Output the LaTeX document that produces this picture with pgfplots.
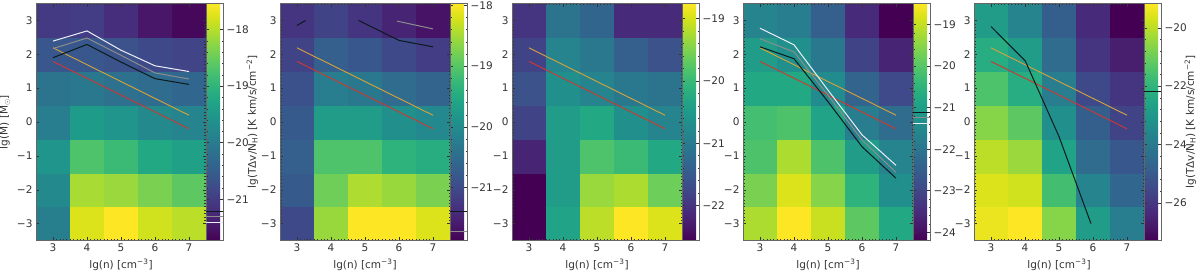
\documentclass[border=0pt]{standalone}
\usepackage{fontspec}
\setmainfont{DejaVu Sans}
\usepackage{pgfplots}
\usepackage{pgfplotstable}
\pgfplotsset{compat=1.18}

\definecolor{lorange}{HTML}{D9A33A}
\definecolor{lred}{HTML}{D0382E}
\definecolor{lgray}{HTML}{8C8C8C}
\definecolor{lwhite}{HTML}{EEEEF6}
\definecolor{lblack}{HTML}{0B1A1C}

\pgfplotstableread{
x y c
3 -3 -19.93
4 -3 -17.75
5 -3 -17.54
6 -3 -17.83
7 -3 -17.96
3 -2 -19.76
4 -2 -18.08
5 -2 -18.17
6 -2 -18.38
7 -2 -18.59
3 -1 -19.55
4 -1 -18.71
5 -1 -18.88
6 -1 -19.22
7 -1 -19.34
3 0 -19.97
4 0 -19.43
5 0 -19.55
6 0 -19.76
7 0 -19.84
3 1 -20.14
4 1 -20.05
5 1 -20.18
6 1 -20.26
7 1 -20.35
3 2 -20.60
4 2 -20.60
5 2 -20.68
6 2 -20.81
7 2 -20.89
3 3 -21.02
4 3 -20.98
5 3 -21.19
6 3 -21.48
7 3 -21.65
}\mapA

\pgfplotstableread{
x y c
3 -3 -21.01
4 -3 -18.56
5 -3 -17.97
6 -3 -17.97
7 -3 -18.17
3 -2 -20.78
4 -2 -18.83
5 -2 -18.44
6 -2 -18.56
7 -2 -18.75
3 -1 -20.70
4 -1 -19.06
5 -1 -19.06
6 -1 -19.34
7 -1 -19.45
3 0 -20.78
4 0 -19.72
5 0 -19.72
6 0 -19.92
7 0 -20.04
3 1 -20.90
4 1 -20.23
5 1 -20.31
6 1 -20.51
7 1 -20.62
3 2 -21.09
4 2 -20.70
5 2 -20.82
6 2 -21.01
7 2 -21.17
3 3 -21.29
4 3 -21.09
5 3 -21.29
6 3 -21.48
7 3 -21.68
}\mapB

\pgfplotstableread{
x y c
3 -3 -22.56
4 -3 -20.36
5 -3 -19.14
6 -3 -18.76
7 -3 -18.95
3 -2 -22.56
4 -2 -20.47
5 -2 -19.33
6 -2 -19.22
7 -2 -19.60
3 -1 -22.18
4 -1 -20.47
5 -1 -19.82
6 -1 -19.98
7 -1 -20.28
3 0 -21.80
4 0 -20.47
5 0 -20.28
6 0 -20.66
7 0 -20.85
3 1 -21.61
4 1 -20.66
5 1 -20.85
6 1 -21.04
7 1 -21.12
3 2 -21.80
4 2 -20.85
5 2 -21.04
6 2 -21.42
7 2 -21.61
3 3 -21.99
4 3 -21.12
5 3 -21.34
6 3 -22.10
7 3 -22.10
}\mapC

\pgfplotstableread{
x y c
3 -3 -19.18
4 -3 -18.49
5 -3 -18.95
6 -3 -19.92
7 -3 -20.77
3 -2 -19.63
4 -2 -18.78
5 -2 -19.52
6 -2 -20.49
7 -2 -21.35
3 -1 -20.09
4 -1 -19.18
5 -1 -20.09
6 -1 -21.06
7 -1 -21.63
3 0 -20.20
4 0 -20.09
5 0 -20.89
6 0 -21.80
7 0 -22.20
3 1 -20.77
4 1 -20.77
5 1 -21.46
6 1 -22.37
7 1 -22.94
3 2 -21.06
4 2 -21.35
5 2 -21.92
6 2 -23.06
7 2 -23.63
3 3 -21.63
4 3 -21.80
5 3 -22.49
6 3 -23.51
7 3 -24.20
}\mapD

\pgfplotstableread{
x y c
3 -3 -19.41
4 -3 -19.17
5 -3 -20.63
6 -3 -22.82
7 -3 -23.88
3 -2 -19.58
4 -2 -19.74
5 -2 -21.61
6 -2 -23.64
7 -2 -24.61
3 -1 -19.98
4 -1 -20.39
5 -1 -22.58
6 -1 -24.45
7 -1 -25.10
3 0 -20.63
4 0 -21.20
5 0 -23.23
6 0 -24.85
7 0 -25.67
3 1 -21.44
4 1 -22.26
5 1 -23.88
6 1 -25.50
7 1 -26.07
3 2 -22.26
4 2 -22.82
5 2 -24.45
6 2 -26.07
7 2 -26.64
3 3 -22.82
4 3 -23.64
5 3 -24.85
6 3 -26.32
7 3 -27.29
}\mapE

\pgfplotsset{
  panel/.style={
    scale only axis, width=170pt, height=237pt, anchor=south west,
    xmin=2.5, xmax=7.5, ymin=-3.5, ymax=3.5,
    xtick={3,4,5,6,7}, xticklabels={3,4,5,6,7},
    ytick={-3,-2,-1,0,1,2,3}, yticklabels={−3,−2,−1,0,1,2,3},
    minor x tick num=9, minor y tick num=9,
    tick align=inside, major tick length=3pt, minor tick length=1.5pt,
    tick style={black!80, line width=0.4pt},
    axis line style={black!60, line width=0.5pt},
    tick label style={text=black!80},
    label style={text=black!80},
    xlabel={lg(n) [cm\textsuperscript{−3}]},
    colormap/viridis,
    axis on top,
    colorbar,
    colorbar shift/.style={},
  },
  cbar/.style={
    at={(parent axis.north east)}, anchor=north west,
    scale only axis, width=17pt, height=237pt,
    yticklabel pos=right,
    tick align=inside,
    minor y tick num=4,
    major tick length=3pt, minor tick length=1.5pt,
    tick style={black!80, line width=0.4pt},
    axis line style={black!60, line width=0.5pt},
    tick label style={text=black!80},
    label style={text=black!80},
    ylabel shift=-9pt,
  },
  heat/.style={matrix plot*, mesh/cols=5, point meta=explicit},
}
\newcommand{\cbline}[2]{\draw[#1, line width=1pt] ({rel axis cs:0,0}|-{axis cs:0,#2}) -- ({rel axis cs:1,0}|-{axis cs:0,#2});}
\newcommand{\reflines}{%
  \addplot[lorange, line width=0.9pt] coordinates {(3,2.19) (7,0.2)};
  \addplot[lred, line width=0.9pt] coordinates {(3,1.79) (7,-0.2)};
}
\def\cblabel{lg(TΔv/N\textsubscript{H}) [K km/s/cm\textsuperscript{−2}]}

\begin{document}
\begin{tikzpicture}[font=\fontsize{10.5}{12}\selectfont]
\path[use as bounding box] (0,0) rectangle (1200pt,272pt);

% Panel 1
\begin{axis}[panel, at={(36pt,31.5pt)},
  ylabel={lg(M) [M$_\odot$]},
  point meta min=-21.73, point meta max=-17.54,
  colorbar style={cbar, ytick={-21,-20,-19,-18}, yticklabels={−21,−20,−19,−18},
    ylabel={\cblabel},
    after end axis/.code={\cbline{lblack}{-21.21}\cbline{lgray}{-21.31}\cbline{lwhite}{-21.42}}},
]
\addplot[heat] table[meta=c] {\mapA};
\reflines
\addplot[lblack, line width=1pt] coordinates {(3,1.90) (4,2.29) (5,1.77) (6,1.28) (7,1.11)};
\addplot[lgray, line width=1pt] coordinates {(3,2.17) (4,2.48) (5,1.97) (6,1.45) (7,1.27)};
\addplot[lwhite, line width=1pt] coordinates {(3,2.39) (4,2.69) (5,2.12) (6,1.66) (7,1.49)};
\end{axis}

% Panel 2
\begin{axis}[panel, at={(280pt,31.5pt)},
  point meta min=-21.87, point meta max=-17.97,
  colorbar style={cbar, ytick={-21,-20,-19,-18}, yticklabels={−21,−20,−19,−18},
    after end axis/.code={\cbline{lblack}{-21.39}\cbline{lgray}{-21.72}}},
]
\addplot[heat] table[meta=c] {\mapB};
\reflines
\addplot[lblack, line width=1pt] coordinates {(3,2.85) (3.25,3.0)};
\addplot[lblack, line width=1pt] coordinates {(4.81,3.0) (6,2.41) (7,2.22)};
\addplot[lgray, line width=1pt] coordinates {(5.94,2.98) (7,2.75)};
\end{axis}

% Panel 3
\begin{axis}[panel, at={(512pt,31.5pt)},
  point meta min=-22.56, point meta max=-18.76,
  colorbar style={cbar, ytick={-22,-21,-20,-19}, yticklabels={−22,−21,−20,−19}},
]
\addplot[heat] table[meta=c] {\mapC};
\reflines
\end{axis}

% Panel 4
\begin{axis}[panel, at={(743pt,31.5pt)},
  point meta min=-24.2, point meta max=-18.49,
  colorbar style={cbar, ytick={-24,-23,-22,-21,-20,-19}, yticklabels={−24,−23,−22,−21,−20,−19},
    after end axis/.code={\cbline{lblack}{-21.11}\cbline{lgray}{-21.23}\cbline{lwhite}{-21.37}}},
]
\addplot[heat] table[meta=c] {\mapD};
\reflines
\addplot[lblack, line width=1pt] coordinates {(3,2.22) (4,1.87) (5,0.6) (6,-0.73) (7,-1.66)};
\addplot[lgray, line width=1pt] coordinates {(3,2.46) (4,2.07) (5,0.79) (6,-0.53) (7,-1.49)};
\addplot[lwhite, line width=1pt] coordinates {(3,2.77) (4,2.28) (5,0.94) (6,-0.38) (7,-1.28)};
\end{axis}

% Panel 5
\begin{axis}[panel, at={(974pt,31.5pt)},
  point meta min=-27.29, point meta max=-19.17,
  colorbar style={cbar, ytick={-26,-24,-22,-20}, yticklabels={−26,−24,−22,−20},
    ylabel={\cblabel},
    after end axis/.code={\cbline{lblack}{-22.17}}},
]
\addplot[heat] table[meta=c] {\mapE};
\reflines
\addplot[lblack, line width=1pt] coordinates {(3,2.82) (4.01,1.80) (5,-0.43) (5.94,-3.0)};
\end{axis}
\end{tikzpicture}
\end{document}
